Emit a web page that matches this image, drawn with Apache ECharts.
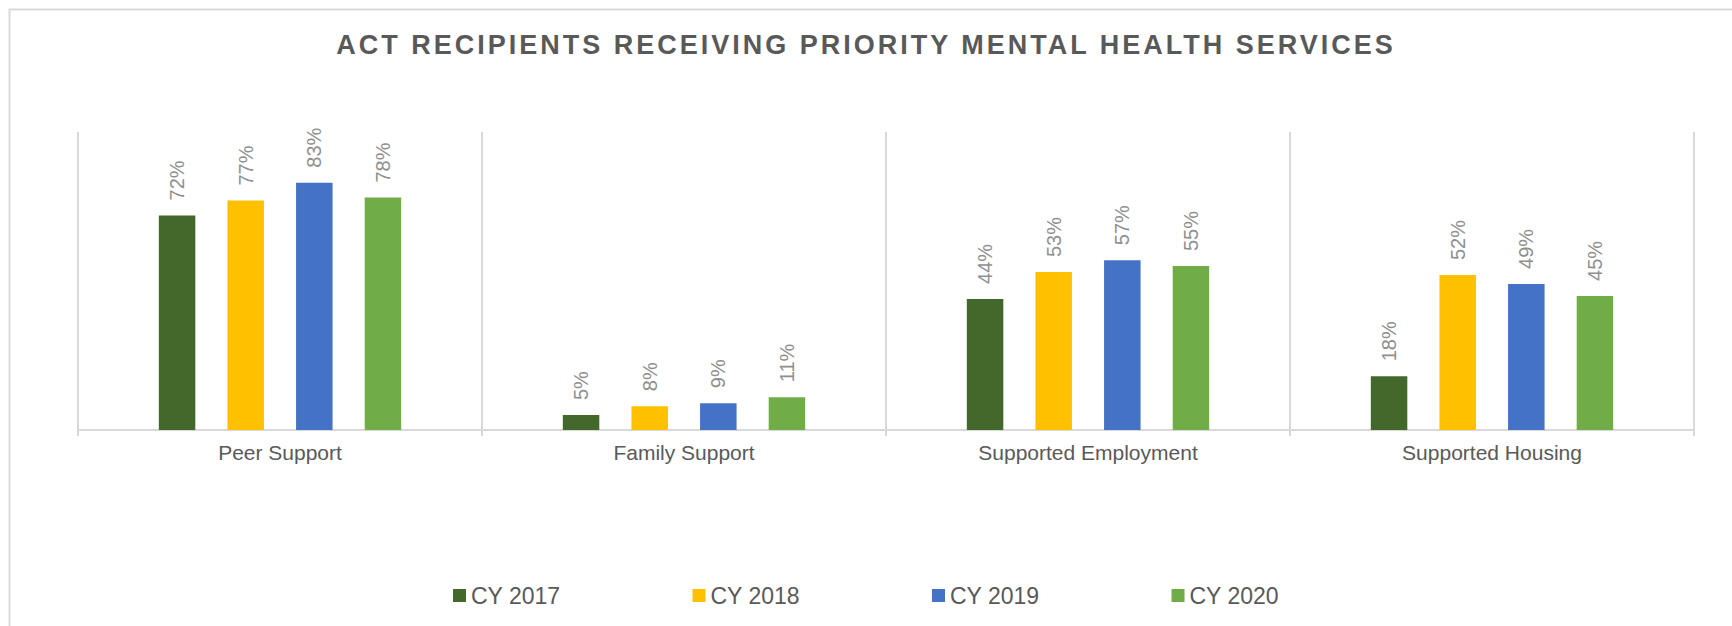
<!DOCTYPE html>
<html>
<head>
<meta charset="utf-8">
<script src="https://cdn.jsdelivr.net/npm/echarts@6/dist/echarts.min.js"></script>
<style>
  html, body { margin: 0; padding: 0; background: #fff; }
  #chart { width: 1732px; height: 626px; }
  /* 标题字间距 (only the title is bold) */
  #chart text[style*="bold"] { letter-spacing: 3px; }
</style>
</head>
<body>
<div id="chart"></div>
<script>
var categories = ['Peer Support', 'Family Support', 'Supported Employment', 'Supported Housing'];
var seriesNames = ['CY 2017', 'CY 2018', 'CY 2019', 'CY 2020'];
var cy2017 = [72, 5, 44, 18];
var cy2018 = [77, 8, 53, 52];
var cy2019 = [83, 9, 57, 49];
var cy2020 = [78, 11, 55, 45];
var colors = ['#43682B', '#FFC000', '#4472C4', '#70AD47'];

var font = 'Liberation Sans, Arial, sans-serif';
var values = [cy2017, cy2018, cy2019, cy2020];

var series = seriesNames.map(function (name, i) {
  return {
    name: name,
    type: 'bar',
    data: values[i],
    barWidth: 36.5,
    barGap: '88%',
    itemStyle: { color: colors[i] },
    label: {
      show: true,
      position: 'top',
      rotate: 90,
      align: 'left',
      verticalAlign: 'middle',
      distance: 15,
      formatter: '{c}%',
      color: '#8f8f8f',
      fontSize: 20,
      fontFamily: font
    }
  };
});

var myChart = echarts.init(document.getElementById('chart'), null, { renderer: 'svg' });
myChart.setOption({
  animation: false,
  color: colors,
  title: {
    text: 'ACT RECIPIENTS RECEIVING PRIORITY MENTAL HEALTH SERVICES',
    left: 'center',
    top: 26,
    textStyle: {
      fontFamily: font,
      fontSize: 27,
      fontWeight: 'bold',
      color: '#595959'
    }
  },
  legend: {
    data: seriesNames,
    left: 'center',
    top: 579,
    icon: 'rect',
    itemWidth: 13,
    itemHeight: 13,
    itemGap: 132,
    textStyle: { fontFamily: font, fontSize: 23, color: '#595959' }
  },
  graphic: [{
    type: 'rect',
    left: 7,
    top: 7,
    shape: { width: 1760, height: 660 },
    style: { fill: 'none', stroke: '#d9d9d9', lineWidth: 2 },
    silent: true
  }],
  grid: { left: 78, right: 38, top: 132, bottom: 196 },
  xAxis: {
    type: 'category',
    data: categories,
    axisLine: { lineStyle: { color: '#d9d9d9', width: 2 } },
    axisTick: { show: true, length: 6, lineStyle: { color: '#d9d9d9', width: 2 } },
    splitLine: { show: true, lineStyle: { color: '#d9d9d9', width: 2 } },
    axisLabel: { fontFamily: font, fontSize: 21, color: '#595959', margin: 12 }
  },
  yAxis: {
    type: 'value',
    min: 0,
    max: 100,
    show: false,
    splitLine: { show: false }
  },
  series: series
});
</script>
</body>
</html>
